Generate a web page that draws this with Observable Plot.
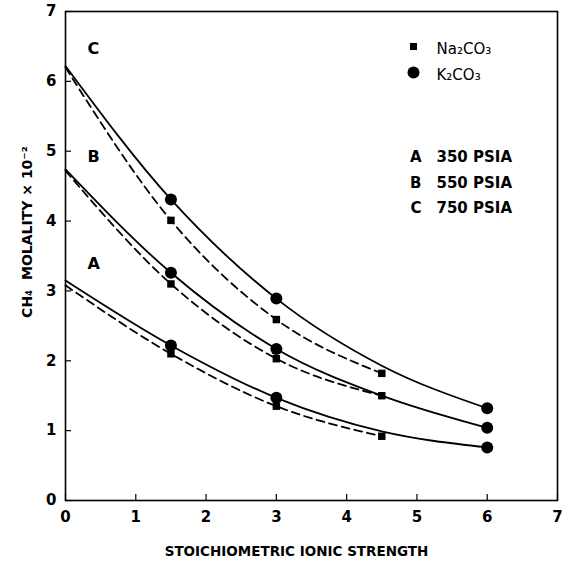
<!DOCTYPE html>
<html>
<head>
<meta charset="utf-8">
<script src="https://cdn.jsdelivr.net/npm/d3@7"></script>
<script src="https://cdn.jsdelivr.net/npm/@observablehq/plot@0.6"></script>
<style>
  html, body { margin: 0; padding: 0; background: #fff; }
</style>
</head>
<body>
<div id="chart"></div>
<script>
// ---- data ----
const curveX = [0, 1.5, 3, 4.5, 6];          // abscissae for the K2CO3 (solid) curves
const curveXNa = [0, 1.5, 3, 4.5];           // abscissae for the Na2CO3 (dashed) curves
const kA = [3.15, 2.22, 1.47, 0.99, 0.76];
const kB = [4.74, 3.26, 2.17, 1.50, 1.04];
const kC = [6.22, 4.31, 2.89, 1.93, 1.32];
const naA = [3.08, 2.10, 1.35, 0.92];
const naB = [4.72, 3.10, 2.03, 1.50];
const naC = [6.20, 4.01, 2.59, 1.82];
const kMarkX = [1.5, 3, 6];                  // measured K2CO3 points (circles)
const naMarkX = [1.5, 3, 4.5];               // measured Na2CO3 points (squares)
const curveNames = ["A", "B", "C"];
const pressures = ["350 PSIA", "550 PSIA", "750 PSIA"];
const salts = ["Na₂CO₃", "K₂CO₃"];
const xTicks = [0, 1, 2, 3, 4, 5, 6, 7];
const yTicks = [0, 1, 2, 3, 4, 5, 6, 7];

// ---- build tables ----
const kSeries = {A: kA, B: kB, C: kC};
const naSeries = {A: naA, B: naB, C: naC};
const kLines = curveNames.flatMap(n => curveX.map((x, i) => ({series: n, x, y: kSeries[n][i]})));
const naLines = curveNames.flatMap(n => curveXNa.map((x, i) => ({series: n, x, y: naSeries[n][i]})));
const kDots = kLines.filter(d => kMarkX.includes(d.x));
const naDots = naLines.filter(d => naMarkX.includes(d.x));

const W = 570, H = 566;
const mL = 65, mR = 13, mT = 11, mB = 66;
const fw = W - mL - mR, fh = H - mT - mB;
const font = "DejaVu Sans";

// label offsets from the frame's corner (layout, not data)
const curveLabelDy = {C: 31, B: 139, A: 246};
const legendRowDy = [140, 165.5, 191];
const saltRowDy = [35, 61];
const saltTextDy = [32, 58];

const marks = [
  Plot.frame({stroke: "#000", strokeWidth: 1.6}),
  Plot.tickX(xTicks, {x: d => d, insetTop: fh - 6, stroke: "#000", strokeWidth: 1.2}),
  Plot.tickY(yTicks, {y: d => d, insetRight: fw - 6, stroke: "#000", strokeWidth: 1.2}),
  Plot.axisX(xTicks, {tickSize: 0, tickPadding: 11, fontSize: 15, fontWeight: "bold", label: null, tickFormat: d3.format("d")}),
  Plot.axisY(yTicks, {tickSize: 0, tickPadding: 9, fontSize: 15, fontWeight: "bold", label: null, tickFormat: d3.format("d")}),
  Plot.line(kLines, {x: "x", y: "y", z: "series", curve: "monotone-x", stroke: "#000", strokeWidth: 1.8}),
  Plot.line(naLines, {x: "x", y: "y", z: "series", curve: "monotone-x", stroke: "#000", strokeWidth: 1.8, strokeDasharray: "8,5"}),
  Plot.dot(kDots, {x: "x", y: "y", r: 6, fill: "#000", stroke: "none"}),
  Plot.dot(naDots, {x: "x", y: "y", symbol: "square", r: 4.2, fill: "#000", stroke: "none"}),
  // salt legend symbols
  Plot.dot([salts[0]], {frameAnchor: "top-right", dx: -144, dy: saltRowDy[0], symbol: "square", r: 4, fill: "#000", stroke: "none"}),
  Plot.dot([salts[1]], {frameAnchor: "top-right", dx: -144, dy: saltRowDy[1], r: 6, fill: "#000", stroke: "none"}),
  // axis titles
  Plot.text(["STOICHIOMETRIC IONIC STRENGTH"], {text: d => d, frameAnchor: "bottom", dx: -15, dy: 55, fontSize: 13.5, fontWeight: "bold"}),
  Plot.text(["CH₄  MOLALITY × 10⁻²"], {text: d => d, frameAnchor: "left", textAnchor: "middle", dx: -38, dy: -24, rotate: -90, fontSize: 14, fontWeight: "bold"})
];
// curve labels
curveNames.forEach(n => marks.push(
  Plot.text([n], {text: d => d, frameAnchor: "top-left", dx: 22, dy: curveLabelDy[n], fontSize: 16, fontWeight: "bold"})
));
// salt legend texts
salts.forEach((s, i) => marks.push(
  Plot.text([s], {text: d => d, frameAnchor: "top-right", textAnchor: "start", dx: -121, dy: saltTextDy[i], fontSize: 15})
));
// pressure legend
curveNames.forEach((n, i) => {
  marks.push(Plot.text([n], {text: d => d, frameAnchor: "top-right", dx: -136, dy: legendRowDy[i], fontSize: 15, fontWeight: "bold"}));
  marks.push(Plot.text([pressures[i]], {text: d => d, frameAnchor: "top-right", textAnchor: "start", dx: -121, dy: legendRowDy[i], fontSize: 15, fontWeight: "bold"}));
});

const chart = Plot.plot({
  width: W,
  height: H,
  marginLeft: mL,
  marginRight: mR,
  marginTop: mT,
  marginBottom: mB,
  style: {fontFamily: font, fontSize: "14px", color: "#000", background: "#fff"},
  x: {domain: [0, 7], ticks: xTicks},
  y: {domain: [0, 7], ticks: yTicks},
  marks
});
document.getElementById("chart").appendChild(chart);
</script>
</body>
</html>
